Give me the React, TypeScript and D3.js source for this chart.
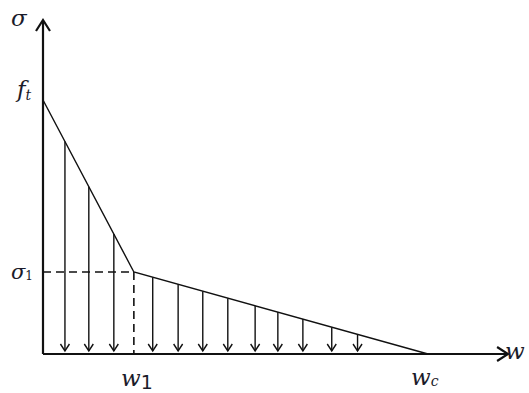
import React from "react";
import * as d3 from "d3";

// Softening law (normalized): crack opening w vs stress sigma
const lawW = [0, 0.236, 1];
const lawS = [1, 0.323, 0];
const arrowsW = [0.057, 0.119, 0.184, 0.285, 0.351, 0.415, 0.48, 0.551, 0.61, 0.675, 0.75, 0.817];
const axisMaxW = 1.208;
const axisMaxS = 1.315;

const W = 529, H = 393;

export default function App() {
  const x = d3.scaleLinear().domain([0, 1]).range([43, 428]);
  const y = d3.scaleLinear().domain([0, 1]).range([354, 100]);
  const pts: [number, number][] = lawW.map((w, i) => [w, lawS[i]]);
  const line = d3.line<[number, number]>().x(d => x(d[0])).y(d => y(d[1]));
  const sAt = (w: number) => {
    if (w <= lawW[1]) return lawS[0] + (lawS[1] - lawS[0]) * (w - lawW[0]) / (lawW[1] - lawW[0]);
    return lawS[1] + (lawS[2] - lawS[1]) * (w - lawW[1]) / (lawW[2] - lawW[1]);
  };
  const x0 = x(0), y0 = y(0);
  const xEnd = x(axisMaxW), yTop = y(axisMaxS);
  const c = "#111";
  const lab = "#1b1b2a";
  const font = "'DejaVu Serif', 'Liberation Serif', serif";
  return (
    <svg width={W} height={H} style={{ position: "absolute", left: 0, top: 0, background: "#fff" }}>
      {/* axes */}
      <line x1={x0} y1={y0} x2={x0} y2={yTop + 1} stroke={c} strokeWidth={2.2} />
      <path d={`M${x0 - 7},${yTop + 11} L${x0},${yTop} L${x0 + 7},${yTop + 11}`} fill="none" stroke={c} strokeWidth={2.2} />
      <line x1={x0} y1={y0} x2={xEnd - 1} y2={y0} stroke={c} strokeWidth={2.2} />
      <path d={`M${xEnd - 11},${y0 - 7} L${xEnd},${y0} L${xEnd - 11},${y0 + 7}`} fill="none" stroke={c} strokeWidth={2.2} />
      {/* law */}
      <path d={line(pts) || ""} fill="none" stroke={c} strokeWidth={1.4} />
      {/* dashed guides */}
      <line x1={x0} y1={y(lawS[1])} x2={x(lawW[1])} y2={y(lawS[1])} stroke={c} strokeWidth={1.6} strokeDasharray="8 5" />
      <line x1={x(lawW[1])} y1={y(lawS[1])} x2={x(lawW[1])} y2={y0} stroke={c} strokeWidth={1.6} strokeDasharray="8 5" />
      {/* stress arrows */}
      {arrowsW.map((w, i) => {
        const ax = x(w), top = y(sAt(w)), bot = y0 - 3;
        return (
          <g key={i}>
            <line x1={ax} y1={top} x2={ax} y2={bot} stroke={c} strokeWidth={1.4} />
            <path d={`M${ax - 4.5},${bot - 7} L${ax},${bot} L${ax + 4.5},${bot - 7}`} fill="none" stroke={c} strokeWidth={1.4} />
          </g>
        );
      })}
      {/* labels */}
      <text x={11} y={26} fontFamily={font} fontStyle="italic" fontSize={23} fill={lab}>σ</text>
      <text x={17} y={97} fontFamily={font} fontStyle="italic" fontSize={23} fill={lab}>f<tspan fontSize={14} dx={0} dy={3}>t</tspan></text>
      <text x={11} y={279} fontFamily={font} fontStyle="italic" fontSize={21} fill={lab}>σ<tspan fontSize={12} fontStyle="normal" dy={1}>1</tspan></text>
      <text x={121} y={386} fontFamily={font} fontStyle="italic" fontSize={23} fill={lab}>w<tspan fontStyle="normal" fontFamily="'DejaVu Sans', sans-serif" fontSize={19} dy={3}>1</tspan></text>
      <text x={411} y={385} fontFamily={font} fontStyle="italic" fontSize={23} fill={lab}>w<tspan fontSize={14} dy={1}>c</tspan></text>
      <text x={505} y={359} fontFamily={font} fontStyle="italic" fontSize={23} fill={lab}>w</text>
    </svg>
  );
}
